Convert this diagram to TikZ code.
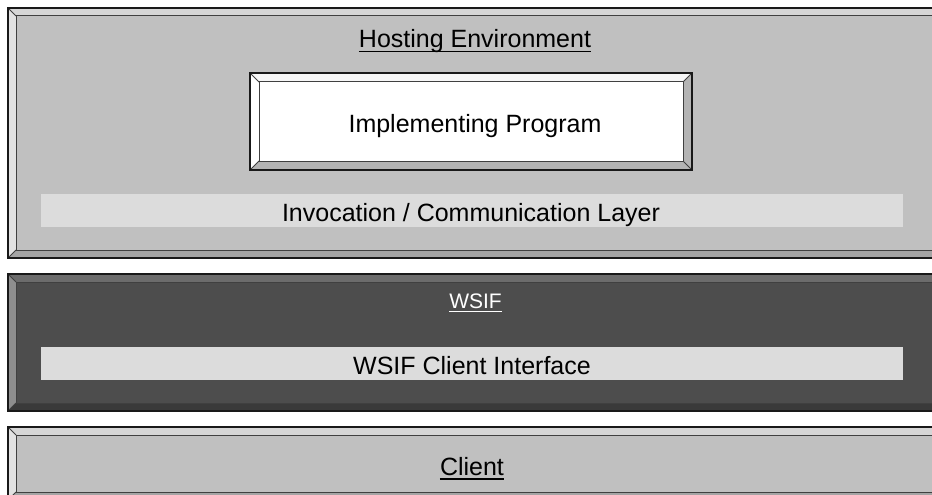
\documentclass[tikz,border=0pt]{standalone}
\usepackage{fontspec}
\setmainfont{Liberation Sans}
% colour schemes: <name>top, <name>left, <name>bottom, <name>right, <name>face
\definecolor{paneltop}{HTML}{D6D6D6}
\definecolor{panelleft}{HTML}{E2E2E2}
\definecolor{panelbottom}{HTML}{A4A4A4}
\definecolor{panelright}{HTML}{A4A4A4}
\definecolor{panelface}{HTML}{C0C0C0}
\definecolor{darktop}{HTML}{6C6C6C}
\definecolor{darkleft}{HTML}{8E8E8E}
\definecolor{darkbottom}{HTML}{3A3A3A}
\definecolor{darkright}{HTML}{3A3A3A}
\definecolor{darkface}{HTML}{4D4D4D}
\definecolor{boxtop}{HTML}{F6F6F6}
\definecolor{boxleft}{HTML}{FFFFFF}
\definecolor{boxbottom}{HTML}{B4B4B4}
\definecolor{boxright}{HTML}{B4B4B4}
\definecolor{boxface}{HTML}{FFFFFF}
\definecolor{barfill}{HTML}{DCDCDC}
\tikzset{
  edge/.style={draw=black!90, line width=1.3pt},
  inneredge/.style={draw=black!75, line width=1pt},
  bar/.style={fill=barfill, draw=none},
  label/.style={font=\fontsize{25}{30}\selectfont, inner sep=0pt, anchor=base},
  title/.style={label},
  uline/.style={line width=1.3pt},
}
% Bevelled rectangle: #1,#2 = top-left corner, #3,#4 = bottom-right corner,
% #5 = bevel width, #6 = colour scheme name
\newcommand\bevelrect[6]{%
  \fill[#6top] (#1,#2) -- (#3,#2) -- (#3-#5,#2+#5) -- (#1+#5,#2+#5) -- cycle;
  \fill[#6left] (#1,#2) -- (#1+#5,#2+#5) -- (#1+#5,#4-#5) -- (#1,#4) -- cycle;
  \fill[#6bottom] (#1,#4) -- (#1+#5,#4-#5) -- (#3-#5,#4-#5) -- (#3,#4) -- cycle;
  \fill[#6right] (#3,#2) -- (#3,#4) -- (#3-#5,#4-#5) -- (#3-#5,#2+#5) -- cycle;
  \fill[#6face] (#1+#5,#2+#5) rectangle (#3-#5,#4-#5);
  \draw[inneredge] (#1+#5,#2+#5) rectangle (#3-#5,#4-#5);
  \draw[inneredge] (#1,#2) -- (#1+#5,#2+#5) (#1,#4) -- (#1+#5,#4-#5)
                   (#3,#2) -- (#3-#5,#2+#5) (#3,#4) -- (#3-#5,#4-#5);
  \draw[edge] (#1,#2) rectangle (#3,#4);
}
\begin{document}
\begin{tikzpicture}[x=1pt,y=-1pt]
  \useasboundingbox (0,0) rectangle (932,495);
  \fill[white] (0,0) rectangle (932,495);
  \clip (0,0) rectangle (932,495);

  % Hosting environment panel
  \bevelrect{8}{8}{945}{258}{8}{panel}
  \node[title] (host) at (475,47.7) {Hosting Environment};
  \draw[uline] ([yshift=-4pt]host.base west) -- ([yshift=-4pt]host.base east);
  % Implementing program box
  \bevelrect{250}{73}{692}{170}{9}{box}
  \node[label] (impl) at (475,132.3) {Implementing Program};
  % Invocation layer bar
  \path[bar] (41,194) rectangle (903,227);
  \node[label] (invoc) at (471,221.7) {Invocation / Communication Layer};

  % WSIF panel
  \bevelrect{8}{274}{945}{411}{8}{dark}
  \node[title, text=white, font=\fontsize{21}{25}\selectfont] (wsif) at (475.5,308) {WSIF};
  \draw[uline, white] ([yshift=-3.5pt]wsif.base west) -- ([yshift=-3.5pt]wsif.base east);
  \path[bar] (41,347) rectangle (903,380);
  \node[label] (wsifci) at (472,374.7) {WSIF Client Interface};

  % Client panel
  \bevelrect{8}{427}{945}{500}{8}{panel}
  \node[title] (client) at (472,475) {Client};
  \draw[uline] ([yshift=-4pt]client.base west) -- ([yshift=-4pt]client.base east);
\end{tikzpicture}
\end{document}
